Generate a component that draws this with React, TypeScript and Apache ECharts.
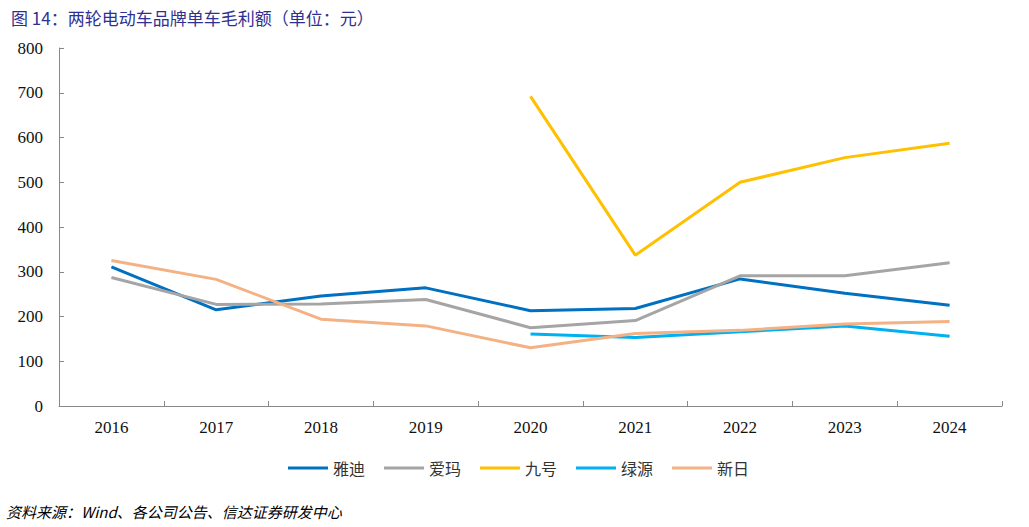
import React, { useEffect, useRef } from "react";
import * as echarts from "echarts";

const years = ["2016", "2017", "2018", "2019", "2020", "2021", "2022", "2023", "2024"];
const yadea = [311, 215, 246, 264, 213, 218, 284, 252, 225];
const aima = [287, 227, 228, 238, 175, 191, 291, 291, 320];
const ninebot = [null, null, null, null, 692, 337, 500, 555, 587];
const luyuan = [null, null, null, null, 161, 153, 166, 179, 156];
const sunra = [325, 283, 194, 179, 130, 162, 169, 183, 189];

const names = ["雅迪", "爱玛", "九号", "绿源", "新日"];
const colors = ["#0070C0", "#A5A5A5", "#FFC000", "#00B0F0", "#F4B183"];
const seriesData = [yadea, aima, ninebot, luyuan, sunra];

export default function App() {
  const ref = useRef<HTMLDivElement>(null);
  useEffect(() => {
    const chart = echarts.init(ref.current!, null, { renderer: "svg" });
    chart.setOption({
      animation: false,
      backgroundColor: "#fff",
      title: {
        text: "图 14：两轮电动车品牌单车毛利额（单位：元）",
        left: 6,
        top: 4,
        textStyle: { color: "#2E3192", fontSize: 17, fontWeight: "normal", fontFamily: "Noto Sans CJK SC" },
      },
      graphic: [
        {
          type: "text",
          left: 6,
          top: 504,
          style: {
            text: "资料来源：Wind、各公司公告、信达证券研发中心",
            fill: "#000",
            font: "italic 15px 'Noto Sans CJK SC'",
          },
        },
      ],
      legend: {
        left: 283,
        top: 455,
        itemWidth: 40,
        itemHeight: 3,
        itemGap: 19,
        icon: "rect",
        textStyle: { color: "#333", fontSize: 16, fontFamily: "Noto Sans CJK SC" },
        data: names,
      },
      grid: { left: 59, right: 27, top: 48, bottom: 121, containLabel: false },
      xAxis: {
        type: "category",
        data: years,
        boundaryGap: true,
        axisLine: { lineStyle: { color: "#888", width: 1 } },
        axisTick: { show: true, inside: true, length: 5, lineStyle: { color: "#888" } },
        axisLabel: { color: "#111", fontSize: 17, fontFamily: "Liberation Serif", margin: 13 },
        splitLine: { show: false },
      },
      yAxis: {
        type: "value",
        min: 0,
        max: 800,
        interval: 100,
        axisLine: { show: true, lineStyle: { color: "#888", width: 1 } },
        axisTick: { show: true, inside: true, length: 5, lineStyle: { color: "#888" } },
        axisLabel: { color: "#111", fontSize: 17, fontFamily: "Liberation Serif", margin: 16 },
        splitLine: { show: false },
      },
      series: names.map((n, i) => ({
        name: n,
        type: "line",
        data: seriesData[i],
        symbol: "none",
        connectNulls: false,
        lineStyle: { color: colors[i], width: 3 },
        itemStyle: { color: colors[i] },
      })),
    });
    return () => chart.dispose();
  }, []);
  return <div ref={ref} style={{ width: 1029, height: 527, position: "absolute", left: 0, top: 0 }} />;
}
